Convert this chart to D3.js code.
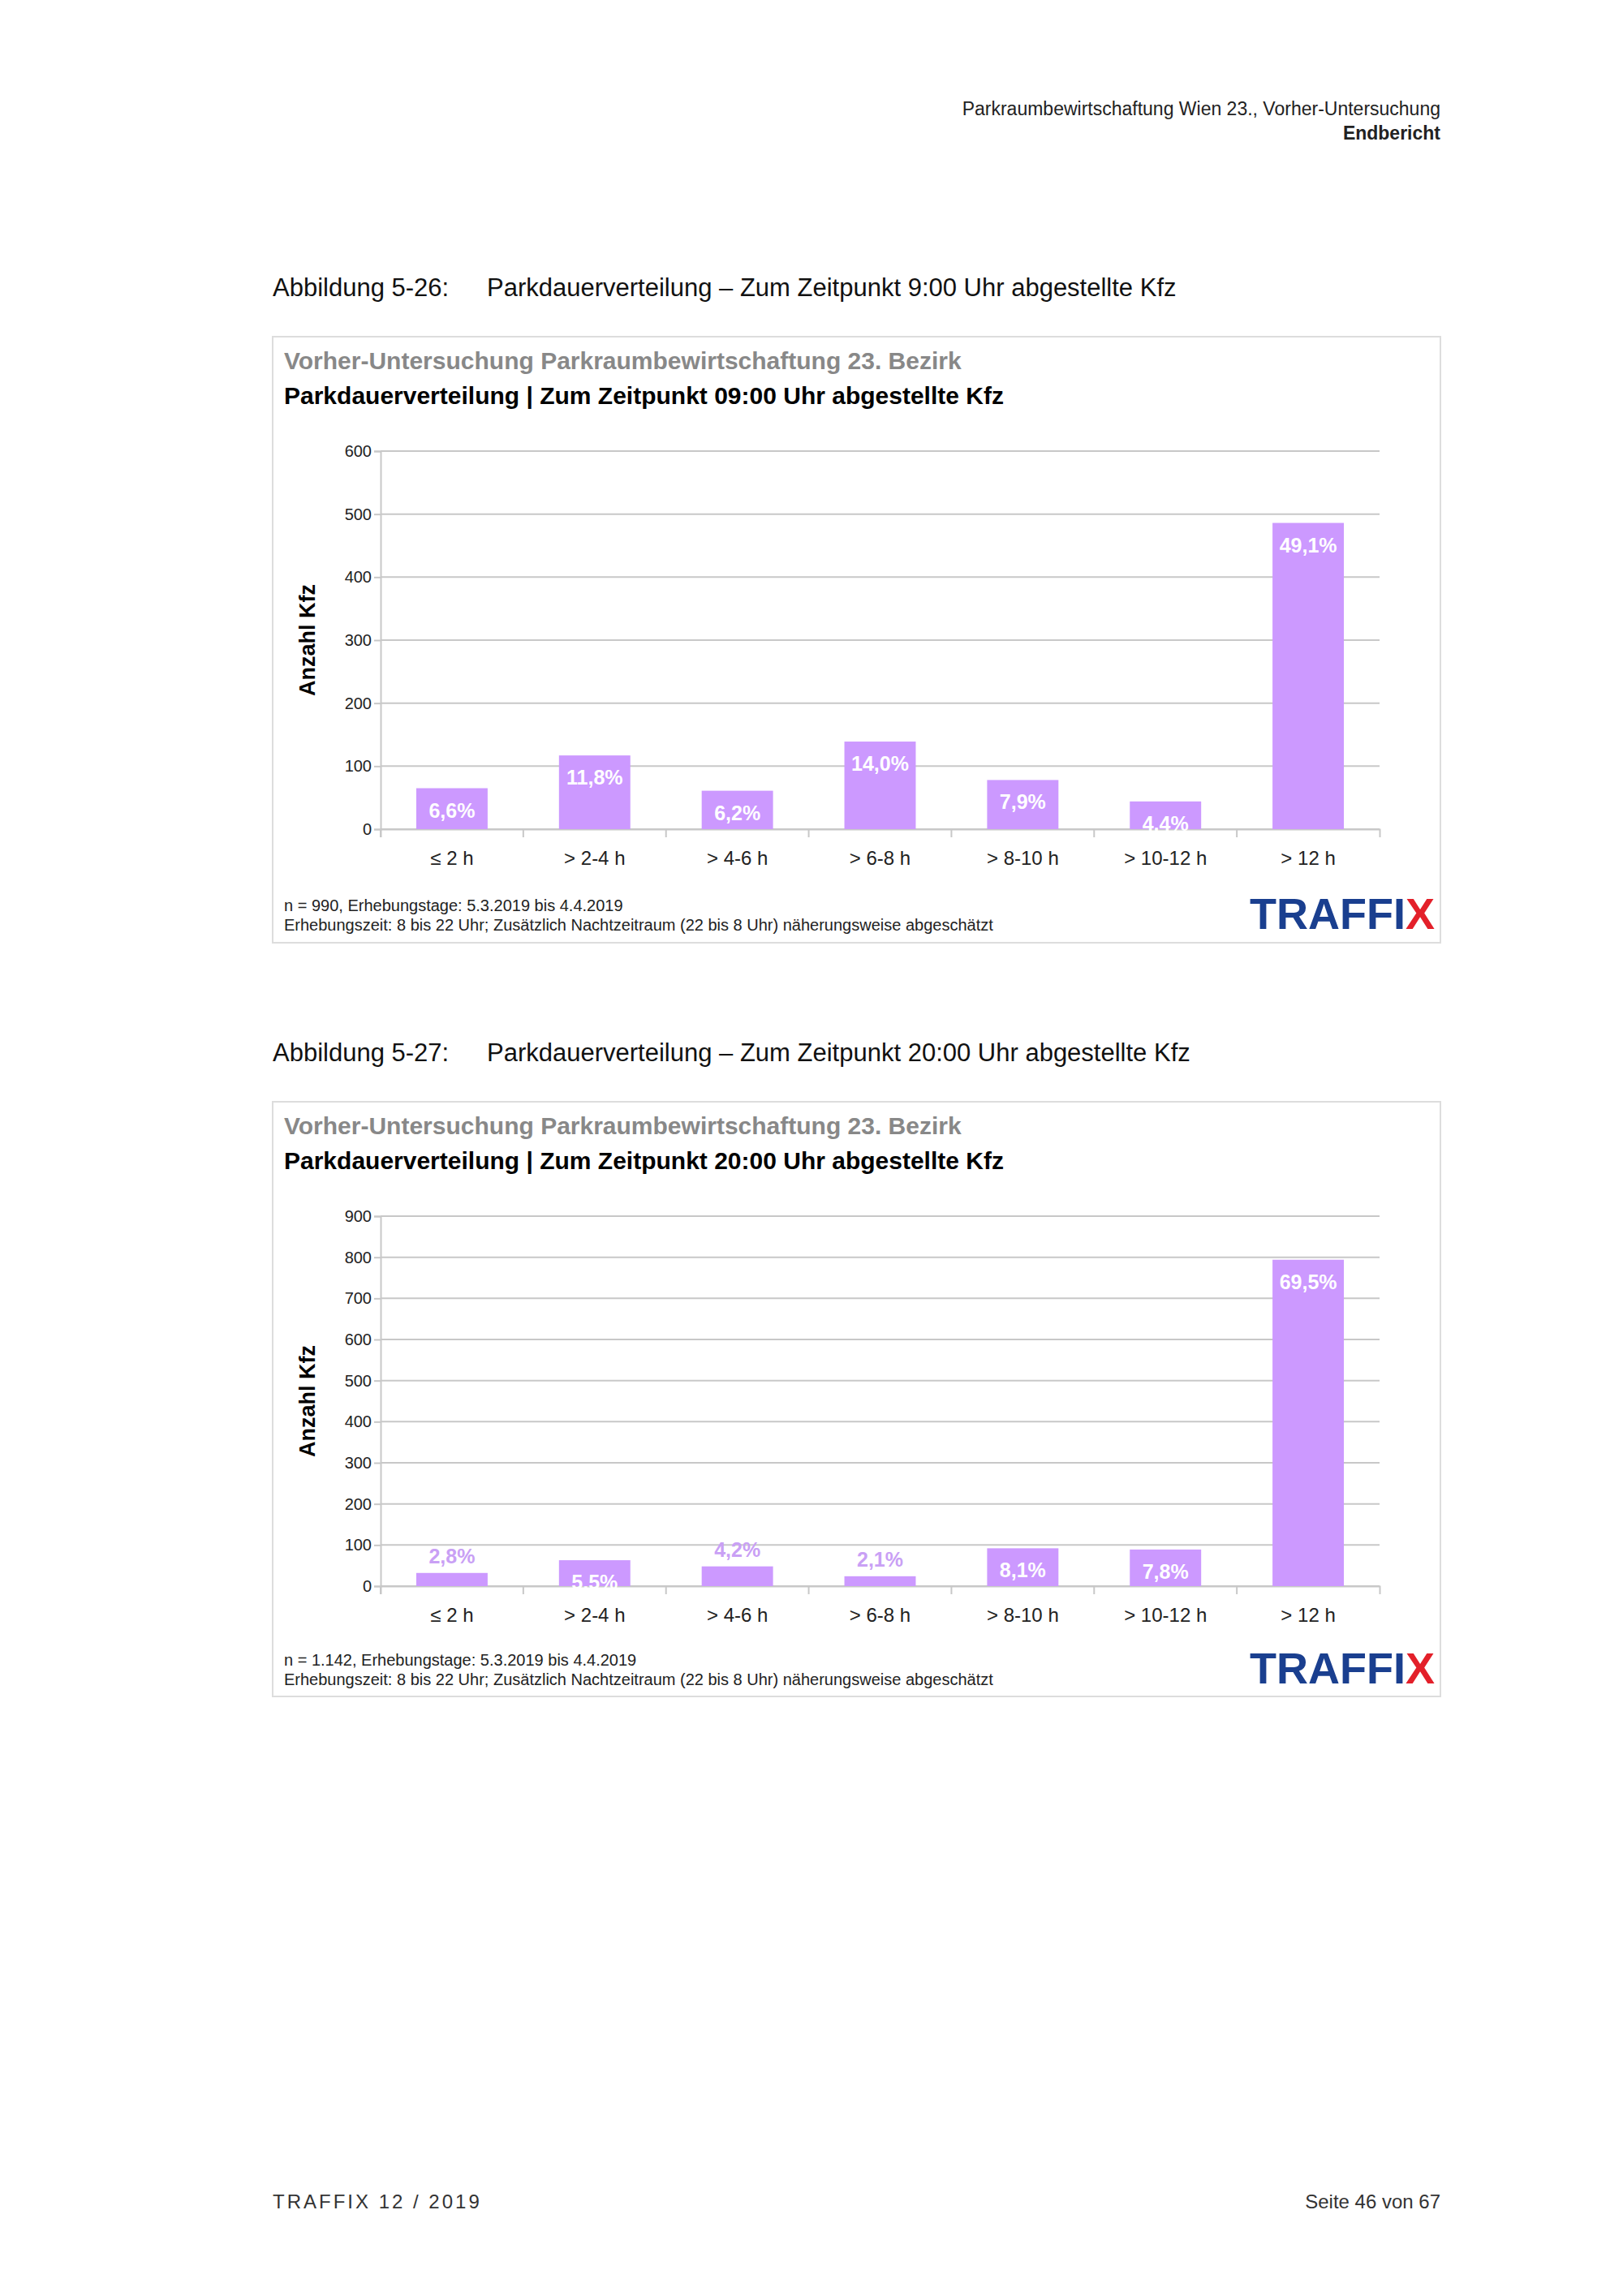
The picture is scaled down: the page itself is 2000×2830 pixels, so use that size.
<!DOCTYPE html>
<html><head><meta charset="utf-8">
<script src="https://cdn.jsdelivr.net/npm/d3@7"></script>
<style>body{margin:0;background:#fff}</style>
</head><body>
<script>
const categories = ["≤ 2 h","> 2-4 h","> 4-6 h","> 6-8 h","> 8-10 h","> 10-12 h","> 12 h"];
const values0900 = [65,117,61,139,78,44,486];
const pct0900 = ["6,6%","11,8%","6,2%","14,0%","7,9%","4,4%","49,1%"];
const values2000 = [32,63,48,24,92,89,794];
const pct2000 = ["2,8%","5,5%","4,2%","2,1%","8,1%","7,8%","69,5%"];
const ticks0900 = [0,100,200,300,400,500,600];
const ticks2000 = [0,100,200,300,400,500,600,700,800,900];

const W=2000,H=2830,F="'Liberation Sans', Arial, sans-serif";
const svg=d3.select("body").append("svg").attr("width",W).attr("height",H);
svg.append("text").attr("x",1775).attr("y",142).attr("text-anchor","end").attr("font-family",F).attr("font-size",23).attr("fill","#222").text("Parkraumbewirtschaftung Wien 23., Vorher-Untersuchung");
svg.append("text").attr("x",1775).attr("y",172).attr("text-anchor","end").attr("font-family",F).attr("font-size",23).attr("font-weight","bold").attr("fill","#222").text("Endbericht");
svg.append("text").attr("x",336).attr("y",2722).attr("font-family",F).attr("font-size",24).attr("letter-spacing",3).attr("fill","#333").text("TRAFFIX  12 / 2019");
svg.append("text").attr("x",1775).attr("y",2722).attr("text-anchor","end").attr("font-family",F).attr("font-size",24).attr("fill","#333").text("Seite 46 von 67");

function chart(top, caption, sub, vals, pcts, ticks, max, note1, inside){
  svg.append("text").attr("x",336).attr("y",top-50).attr("font-family",F).attr("font-size",31).attr("fill","#111").text("Abbildung "+caption[0]);
  svg.append("text").attr("x",600).attr("y",top-50).attr("font-family",F).attr("font-size",31).attr("fill","#111").text(caption[1]);
  const g=svg.append("g");
  g.append("rect").attr("x",336).attr("y",top).attr("width",1439).attr("height",top===415?747:733).attr("fill","#fff").attr("stroke","#ddd").attr("stroke-width",2);
  g.append("text").attr("x",350).attr("y",top+40).attr("font-family",F).attr("font-size",30).attr("font-weight","bold").attr("fill","#888").text("Vorher-Untersuchung Parkraumbewirtschaftung 23. Bezirk");
  g.append("text").attr("x",350).attr("y",top+83).attr("font-family",F).attr("font-size",30).attr("font-weight","bold").attr("fill","#000").text(sub);
  const py0=top+141, py1=top+(top===415?607:597);
  const x=d3.scaleBand().domain(categories).range([469,1700]).paddingInner(0.5).paddingOuter(0.25);
  const y=d3.scaleLinear().domain([0,max]).range([py1,py0]);
  g.selectAll(".gl").data(ticks).join("line").attr("x1",469).attr("x2",1700).attr("y1",d=>y(d)).attr("y2",d=>y(d)).attr("stroke","#c8c8c8").attr("stroke-width",2);
  const ya=g.append("g").attr("transform","translate(469,0)").call(d3.axisLeft(y).tickValues(ticks).tickSize(8));
  ya.selectAll("text").attr("font-family",F).attr("font-size",20).attr("fill","#222");
  ya.selectAll("line,path").attr("stroke","#c8c8c8").attr("stroke-width",2);
  const xa=g.append("g").attr("transform",`translate(0,${py1})`).call(d3.axisBottom(x.copy().paddingInner(0).paddingOuter(0)).tickSize(10).tickSizeOuter(10));
  xa.selectAll(".tick line").attr("transform",`translate(${-1231/14},0)`);
  xa.selectAll("text").attr("font-family",F).attr("font-size",24).attr("fill","#222").attr("dy","1.3em");
  xa.selectAll("line,path").attr("stroke","#c8c8c8").attr("stroke-width",2);
  g.selectAll(".bar").data(vals).join("rect").attr("x",(d,i)=>x(categories[i])).attr("width",x.bandwidth()).attr("y",d=>y(d)).attr("height",d=>py1-y(d)).attr("fill","#cc99ff");
  g.selectAll(".lbl").data(vals).join("text").attr("x",(d,i)=>x(categories[i])+x.bandwidth()/2)
   .attr("y",(d,i)=>inside[i]?y(d)+36:y(d)-12).attr("text-anchor","middle").attr("font-family",F).attr("font-size",25).attr("font-weight","bold")
   .attr("fill",(d,i)=>inside[i]?"#fff":"#c9a0f5").text((d,i)=>pcts[i]);
  g.append("text").attr("transform",`translate(388,${(py0+py1)/2}) rotate(-90)`).attr("text-anchor","middle").attr("font-family",F).attr("font-size",27).attr("font-weight","bold").text("Anzahl Kfz");
  const fb=top+(top===415?708:695);
  g.append("text").attr("x",350).attr("y",fb).attr("font-family",F).attr("font-size",20).attr("fill","#222").text(note1);
  g.append("text").attr("x",350).attr("y",fb+24).attr("font-family",F).attr("font-size",20).attr("fill","#222").text("Erhebungszeit: 8 bis 22 Uhr; Zusätzlich Nachtzeitraum (22 bis 8 Uhr) näherungsweise abgeschätzt");
  const t=g.append("text").attr("x",1768).attr("y",fb+22).attr("text-anchor","end").attr("font-family",F).attr("font-size",54).attr("font-weight","bold").attr("fill","#1a3f8f");
  t.append("tspan").text("TRAFFI"); t.append("tspan").attr("fill","#e3202a").text("X");
}
chart(415,["5-26:","Parkdauerverteilung – Zum Zeitpunkt 9:00 Uhr abgestellte Kfz"],"Parkdauerverteilung | Zum Zeitpunkt 09:00 Uhr abgestellte Kfz",values0900,pct0900,ticks0900,600,"n = 990, Erhebungstage: 5.3.2019 bis 4.4.2019",[1,1,1,1,1,1,1]);
chart(1358,["5-27:","Parkdauerverteilung – Zum Zeitpunkt 20:00 Uhr abgestellte Kfz"],"Parkdauerverteilung | Zum Zeitpunkt 20:00 Uhr abgestellte Kfz",values2000,pct2000,ticks2000,900,"n = 1.142, Erhebungstage: 5.3.2019 bis 4.4.2019",[0,1,0,0,1,1,1]);
</script></body></html>
